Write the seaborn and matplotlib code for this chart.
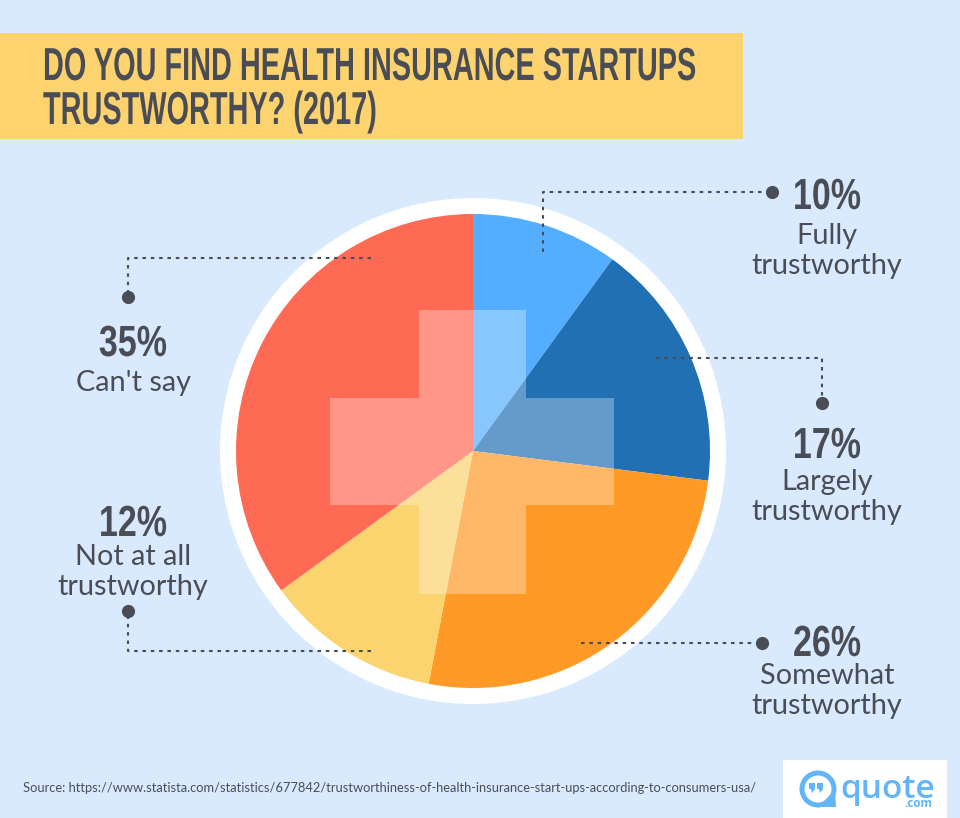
import matplotlib.pyplot as plt
from matplotlib.patches import Circle, Polygon, Rectangle
from matplotlib.patheffects import AbstractPathEffect
from matplotlib.transforms import Affine2D
import seaborn as sns

H = 818

# values, clockwise from the top
categories = ['Fully\ntrustworthy', 'Largely\ntrustworthy', 'Somewhat\ntrustworthy',
              'Not at all\ntrustworthy', "Can't say"]
shares = [10, 17, 26, 12, 35]
share_labels = ['10%', '17%', '26%', '12%', '35%']
colors = ['#54AEFF', '#2270B4', '#FF9A26', '#FCD46F', '#FF6A55']

title_lines = ['DO YOU FIND HEALTH INSURANCE STARTUPS', 'TRUSTWORTHY? (2017)']
source = 'Source: https://www.statista.com/statistics/677842/trustworthiness-of-health-insurance-start-ups-according-to-consumers-usa/'

BG = '#D9EAFF'
DARK = '#4A4D55'
LOGO = '#62B5F8'
HEAD = 'Liberation Sans'
BODY = 'Lato'


class Tall(AbstractPathEffect):
    # no condensed display font here, so stretch the glyphs upward from the baseline
    def __init__(self, k):
        super().__init__()
        self.k = k

    def draw_path(self, renderer, gc, tpath, affine, rgbFace=None):
        renderer.draw_path(gc, tpath, Affine2D().scale(1, self.k) + affine, rgbFace)


sns.set_theme(style='white')
fig = plt.figure(figsize=(9.6, 8.18), dpi=100, facecolor=BG)
ax = fig.add_axes([0, 0, 1, 1])
ax.set_xlim(0, 960)
ax.set_ylim(0, H)
ax.set_aspect('equal')
ax.axis('off')


def up(y):
    return H - y


# title band
ax.add_patch(Rectangle((0, up(139)), 743, 106, color='#FDD36F', lw=0))
ax.text(43, up(80), title_lines[0], family=HEAD, weight='bold', fontsize=20.8, color=DARK,
        va='baseline', ha='left', path_effects=[Tall(1.6)])
ax.text(43, up(124), title_lines[1], family=HEAD, weight='bold', fontsize=20.8, color=DARK,
        va='baseline', ha='left', path_effects=[Tall(1.6)])

# pie with its white ring and the cross on top
cx, cy = 473, up(451)
ax.add_patch(Circle((cx, cy), 253, color='white', lw=0))
ax.pie(shares, colors=colors, startangle=90, counterclock=False,
       center=(cx, cy), radius=237, frame=True, wedgeprops={'linewidth': 0})
ax.set_xlim(0, 960)
ax.set_ylim(0, H)
ax.axis('off')

cross = [(419, 310), (526, 310), (526, 398), (614, 398), (614, 505), (526, 505),
         (526, 594), (419, 594), (419, 505), (330, 505), (330, 398), (419, 398)]
ax.add_patch(Polygon([(x, up(y)) for x, y in cross], closed=True,
                     facecolor='white', alpha=0.3, lw=0, zorder=5))

# leader lines: from inside the slice to the dot
leaders = [
    [(543, 252), (543, 192), (772, 192)],
    [(656, 358), (822, 358), (822, 403)],
    [(581, 643), (762, 643)],
    [(371, 651), (128, 651), (128, 611)],
    [(371, 258), (128, 258), (128, 297)],
]
for pts in leaders:
    ax.plot([p[0] for p in pts], [up(p[1]) for p in pts], color=DARK, lw=1.5,
            dashes=(1.7, 2.3), zorder=6)
    ax.plot(pts[-1][0], up(pts[-1][1]), 'o', color=DARK, ms=9.5, mew=0, zorder=6)

# labels, same order as the values
pct_pos = [(827, 209), (827, 458), (827, 656), (133, 536), (133, 356)]
name_pos = [(827, 251), (827, 497), (827, 691), (133, 572), (133, 383)]
for i in range(len(shares)):
    ax.text(pct_pos[i][0], up(pct_pos[i][1]), share_labels[i], family=HEAD, weight='bold',
            fontsize=24.5, color=DARK, ha='center', va='baseline', path_effects=[Tall(1.28)])
    ax.text(name_pos[i][0], up(name_pos[i][1]), categories[i], family=BODY, fontsize=20.8,
            color=DARK, ha='center', va='center', linespacing=1.17)

# source line and logo
ax.text(23, up(788), source, family=BODY, fontsize=9.3, color=DARK, va='center', ha='left')
ax.add_patch(Rectangle((783, 0), 164, up(760), color='white', lw=0))
ax.add_patch(Circle((818, up(789)), 16, facecolor='none', edgecolor=LOGO, lw=3.6))
ax.add_patch(Polygon([(818, up(807)), (836, up(807)), (835, up(790))], color=LOGO, lw=0))
for qx in (809, 817):
    ax.add_patch(Polygon([(qx, up(783)), (qx + 6, up(783)), (qx + 6, up(789)), (qx + 3, up(793)),
                          (qx + 2, up(789)), (qx, up(789))], color=LOGO, lw=0))
ax.text(840, up(798), 'quote', family='Open Sans', weight='semibold', fontsize=24, color=LOGO,
        va='baseline', ha='left')
ax.text(932, up(807), '.com', family='Open Sans', weight='bold', fontsize=8.5, color=LOGO,
        va='baseline', ha='right')

fig.savefig('out.png', dpi=100, facecolor=BG)
